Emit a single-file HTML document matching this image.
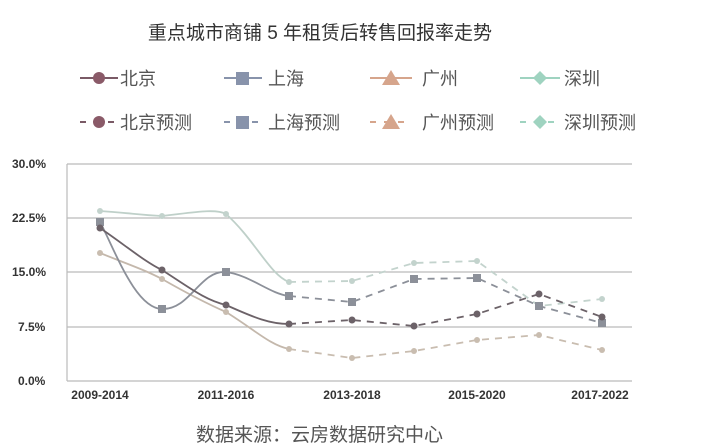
<!DOCTYPE html>
<html><head><meta charset="utf-8"><style>
body{margin:0;background:#fff;width:708px;height:448px;overflow:hidden}
svg{display:block}
text{font-family:"Liberation Sans","Noto Sans CJK SC",sans-serif}
</style></head><body>
<svg width="708" height="448" xmlns="http://www.w3.org/2000/svg">
<text x="320" y="39" font-size="19" text-anchor="middle" fill="#333">重点城市商铺 5 年租赁后转售回报率走势</text>
<g font-size="18" fill="#555">
<line x1="80" y1="78" x2="118" y2="78" stroke="#7a5a66" stroke-width="2"/><circle cx="99" cy="78" r="6" fill="#8a5a68"/><text x="120" y="85">北京</text>
<line x1="224" y1="78" x2="262" y2="78" stroke="#8893ab" stroke-width="2"/><rect x="236" y="72" width="13" height="13" fill="#8893ab"/><text x="268" y="85">上海</text>
<line x1="370" y1="78" x2="412" y2="78" stroke="#d6a58c" stroke-width="2"/><polygon points="391,70 400,85 382,85" fill="#d6a58c"/><text x="422" y="85">广州</text>
<line x1="520" y1="78" x2="560" y2="78" stroke="#9fd3c0" stroke-width="2"/><polygon points="540,71 547,78 540,85 533,78" fill="#9fd3c0"/><text x="564" y="85">深圳</text>
<line x1="80" y1="122" x2="118" y2="122" stroke="#7a5a66" stroke-width="2" stroke-dasharray="6,8"/><rect x="90" y="116" width="18" height="12" fill="#fff"/><circle cx="99" cy="122" r="6" fill="#8a5a68"/><text x="120" y="129">北京预测</text>
<line x1="224" y1="122" x2="262" y2="122" stroke="#8893ab" stroke-width="2" stroke-dasharray="6,8"/><rect x="236" y="116" width="13" height="13" fill="#8893ab"/><text x="268" y="129">上海预测</text>
<line x1="370" y1="122" x2="412" y2="122" stroke="#d6a58c" stroke-width="2" stroke-dasharray="6,8"/><polygon points="391,114 400,129 382,129" fill="#d6a58c"/><text x="422" y="129">广州预测</text>
<line x1="520" y1="122" x2="560" y2="122" stroke="#9fd3c0" stroke-width="2" stroke-dasharray="6,8"/><polygon points="540,115 547,122 540,129 533,122" fill="#9fd3c0"/><text x="564" y="129">深圳预测</text>
</g>
<g stroke="#bbb" stroke-width="1.2">
<line x1="67" y1="164" x2="632" y2="164"/><line x1="67" y1="218" x2="632" y2="218"/><line x1="67" y1="272" x2="632" y2="272"/><line x1="67" y1="327" x2="632" y2="327"/><line x1="67" y1="381" x2="632" y2="381"/><line x1="67" y1="164" x2="67" y2="381"/>
</g>
<g font-size="12" font-weight="bold" fill="#333">
<text x="12" y="168">30.0%</text><text x="12" y="222">22.5%</text><text x="12" y="276">15.0%</text><text x="18" y="331">7.5%</text><text x="18" y="385">0.0%</text>
<text x="100" y="399" text-anchor="middle">2009-2014</text><text x="226" y="399" text-anchor="middle">2011-2016</text><text x="352" y="399" text-anchor="middle">2013-2018</text><text x="477" y="399" text-anchor="middle">2015-2020</text><text x="600" y="399" text-anchor="middle">2017-2022</text>
</g>
<g fill="none" stroke-width="1.8">
<path d="M100,211 C130,213 140,215 162,216 C190,213 215,208 226,214 C255,240 270,275 289,282" stroke="#bfd0c9"/>
<path d="M100,253 C130,265 145,270 162,279 C190,295 210,305 226,312 C255,330 270,345 289,349" stroke="#c4b8ac"/>
<path d="M100,222 C115,250 135,308 162,309 C190,310 200,270 226,272 C250,275 270,294 289,296" stroke="#8c9099"/>
<path d="M100,228 C125,245 145,262 162,270 C190,288 205,300 226,305 C255,318 270,324 289,324" stroke="#6c6268"/>
</g>
<g fill="none" stroke-width="1.8" stroke-dasharray="7,6">
<polyline points="289,282 352,281 414,263 477,261 539,306 602,299" stroke="#c3d3cd"/>
<polyline points="289,349 352,358 414,351 477,340 539,335 602,350" stroke="#c9bdb0"/>
<polyline points="289,296 352,302 414,279 477,278 539,306 602,323" stroke="#8c9099"/>
<polyline points="289,324 352,320 414,326 477,314 539,294 602,317" stroke="#6c6268"/>
</g>
<g fill="#c3d3cd"><circle cx="100" cy="211" r="3"/><circle cx="162" cy="216" r="3"/><circle cx="226" cy="214" r="3"/><circle cx="289" cy="282" r="3"/><circle cx="352" cy="281" r="3"/><circle cx="414" cy="263" r="3"/><circle cx="477" cy="261" r="3"/><circle cx="602" cy="299" r="3"/></g>
<g fill="#c9bdb0"><circle cx="100" cy="253" r="3"/><circle cx="162" cy="279" r="3"/><circle cx="226" cy="312" r="3"/><circle cx="289" cy="349" r="3"/><circle cx="352" cy="358" r="3"/><circle cx="414" cy="351" r="3"/><circle cx="477" cy="340" r="3"/><circle cx="539" cy="335" r="3"/><circle cx="602" cy="350" r="3"/></g>
<g fill="#8c9099"><rect x="96" y="218" width="8" height="8"/><rect x="158" y="305" width="8" height="8"/><rect x="222" y="268" width="8" height="8"/><rect x="285" y="292" width="8" height="8"/><rect x="348" y="298" width="8" height="8"/><rect x="410" y="275" width="8" height="8"/><rect x="473" y="274" width="8" height="8"/><rect x="535" y="302" width="8" height="8"/><rect x="598" y="319" width="8" height="8"/></g>
<g fill="#6c6268"><circle cx="100" cy="228" r="3.5"/><circle cx="162" cy="270" r="3.5"/><circle cx="226" cy="305" r="3.5"/><circle cx="289" cy="324" r="3.5"/><circle cx="352" cy="320" r="3.5"/><circle cx="414" cy="326" r="3.5"/><circle cx="477" cy="314" r="3.5"/><circle cx="539" cy="294" r="3.5"/><circle cx="602" cy="317" r="3.5"/></g>
<text x="196" y="441" font-size="19" fill="#555">数据来源：云房数据研究中心</text>
</svg>
</body></html>
